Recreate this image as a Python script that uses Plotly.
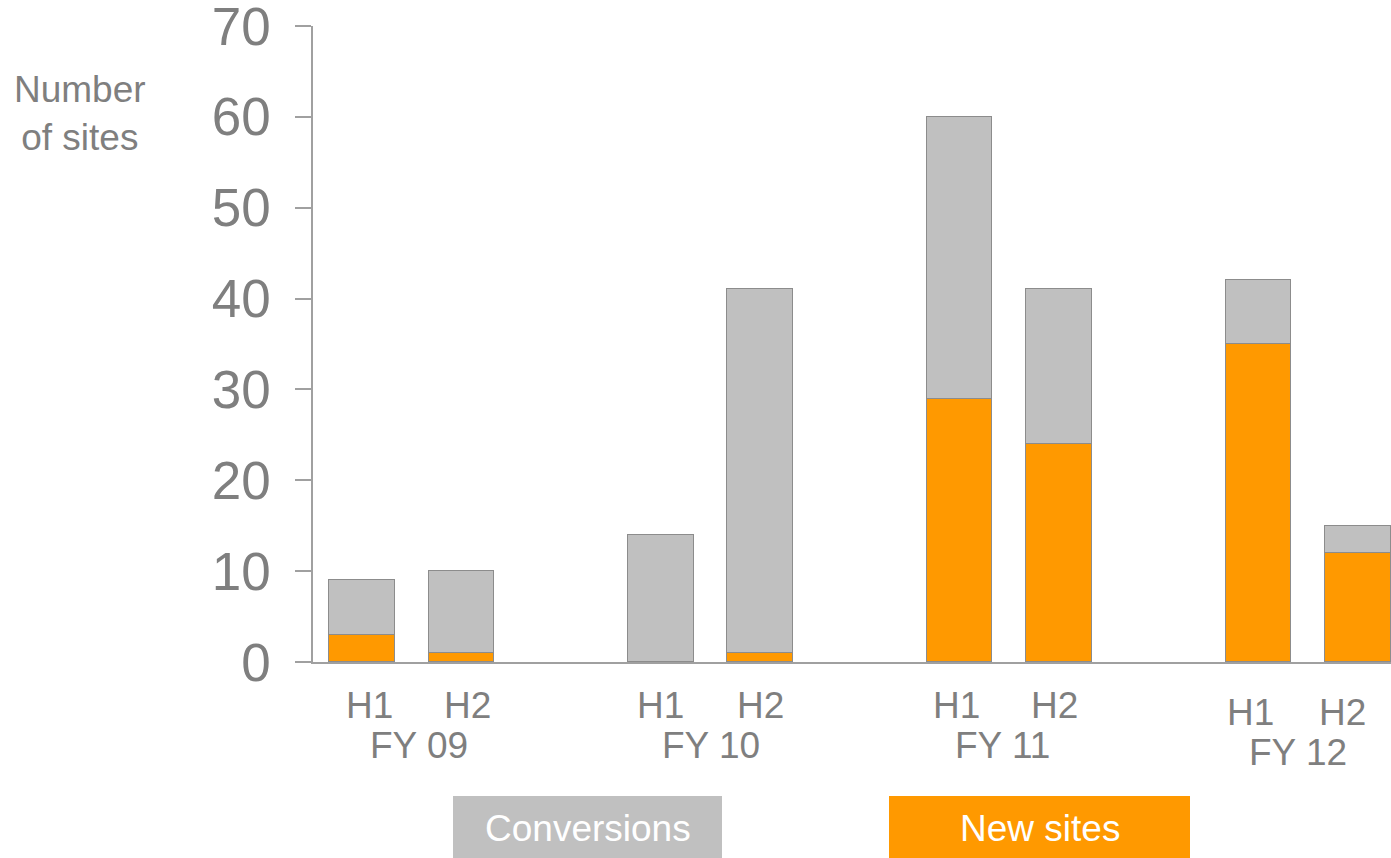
import plotly.graph_objects as go

# Data
fiscal_years = ["FY 09", "FY 10", "FY 11", "FY 12"]
halves = ["H1", "H2"]
new_sites = [3, 1, 0, 1, 29, 24, 35, 12]
conversions = [6, 9, 14, 40, 31, 17, 7, 3]
x_pos = [0, 1, 3, 4, 6, 7, 9, 10]

W, H = 1391, 858
L, R, T, B = 313, 0, 26, 196
pw, ph = W - L - R, H - T - B

def px(xp):
    return (xp - L) / pw

def py(yp):
    return (H - B - yp) / ph

GRAY_TXT = "#7f7f7f"
FONT = "Liberation Sans, Arial, sans-serif"
ORANGE = "#ff9900"
GRAY = "#c0c0c0"
EDGE = "#8c8c8c"
TXT = 37

fig = go.Figure()
fig.add_trace(go.Bar(x=x_pos, y=new_sites, name="New sites", width=0.66,
                     marker=dict(color=ORANGE, line=dict(color=EDGE, width=1))))
fig.add_trace(go.Bar(x=x_pos, y=conversions, name="Conversions", width=0.66,
                     marker=dict(color=GRAY, line=dict(color=EDGE, width=1))))

annotations = []
h_shift = [[8, 6], [0, 0], [-3, -5], [-8, -16]]
fy_shift = [7, 0, -7, -10]
for gi, fy in enumerate(fiscal_years):
    extra = 7 if gi == 3 else 0
    for hi, h in enumerate(halves):
        xi = x_pos[gi * 2 + hi]
        annotations.append(dict(x=xi, xref="x", y=py(705 + extra), yref="paper",
                                text=h, showarrow=False, xshift=h_shift[gi][hi],
                                font=dict(size=TXT, color=GRAY_TXT, family=FONT),
                                xanchor="center", yanchor="middle"))
    mid = (x_pos[gi * 2] + x_pos[gi * 2 + 1]) / 2
    annotations.append(dict(x=mid, xref="x", y=py(745 + extra), yref="paper",
                            text=fy, showarrow=False, xshift=fy_shift[gi],
                            font=dict(size=TXT, color=GRAY_TXT, family=FONT),
                            xanchor="center", yanchor="middle"))

# y-axis title
annotations.append(dict(x=px(80), y=py(113), xref="paper", yref="paper",
                        text="Number<br>of sites", showarrow=False, align="center",
                        font=dict(size=TXT, color=GRAY_TXT, family=FONT),
                        xanchor="center", yanchor="middle"))

# legend boxes
shapes = []
legend_items = [("Conversions", GRAY, 453, 722), ("New sites", ORANGE, 889, 1190)]
for label, col, x0, x1 in legend_items:
    shapes.append(dict(type="rect", xref="paper", yref="paper",
                       x0=px(x0), x1=px(x1), y0=py(858), y1=py(796),
                       fillcolor=col, line=dict(width=0)))
    annotations.append(dict(x=px((x0 + x1) / 2), y=py(828), xref="paper", yref="paper",
                            text=label, showarrow=False,
                            font=dict(size=TXT, color="white", family=FONT),
                            xanchor="center", yanchor="middle"))

fig.update_layout(
    barmode="stack",
    width=W, height=H,
    margin=dict(l=L, r=R, t=T, b=B, autoexpand=False),
    paper_bgcolor="white", plot_bgcolor="white",
    showlegend=False,
    font=dict(family=FONT, color=GRAY_TXT),
    xaxis=dict(range=[-0.49, 10.33], showticklabels=False, ticks="",
               showgrid=False, zeroline=False, showline=True,
               linecolor="#a0a0a0", linewidth=1.5, fixedrange=True),
    yaxis=dict(range=[0, 70], dtick=10, ticks="outside", ticklen=16,
               tickcolor="#a0a0a0", tickwidth=1.5, showgrid=False, zeroline=False,
               showline=True, linecolor="#a0a0a0", linewidth=1.5,
               ticklabelstandoff=14, ticklabeloverflow="allow",
               tickfont=dict(size=53, color=GRAY_TXT, family=FONT), fixedrange=True),
    annotations=annotations,
    shapes=shapes,
    bargap=0,
)

fig.write_html("out.html", config={"displayModeBar": False})
